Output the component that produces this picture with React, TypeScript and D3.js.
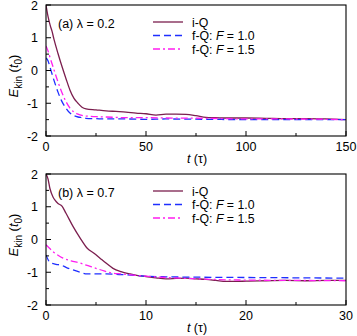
import React from "react";
import * as d3 from "d3";

// Panel (a): lambda = 0.2, t in [0,150]
const tIQa = [0,1,2,3,4,6,8,10,12,14,16,18,20,25,30,35,40,45,50,55,60,65,70,75,80,85,90,100,110,120,130,140,150];
const eIQa = [2.0,1.65,1.4,1.2,0.95,0.52,0.12,-0.25,-0.6,-0.85,-1.0,-1.12,-1.17,-1.2,-1.23,-1.25,-1.27,-1.3,-1.32,-1.36,-1.33,-1.33,-1.34,-1.38,-1.43,-1.44,-1.45,-1.45,-1.46,-1.47,-1.47,-1.48,-1.5];
const tF1a = [0,1,2,4,6,8,10,12,14,16,18,20,25,30,40,50,60,80,100,120,150];
const eF1a = [0.38,0.3,0.1,-0.3,-0.66,-0.95,-1.15,-1.3,-1.38,-1.42,-1.44,-1.46,-1.47,-1.48,-1.48,-1.49,-1.48,-1.49,-1.5,-1.5,-1.5];
const tF15a = [0,1,2,4,6,8,10,12,14,16,18,20,25,30,40,50,60,80,100,120,150];
const eF15a = [0.75,0.6,0.4,0.02,-0.35,-0.68,-0.95,-1.15,-1.27,-1.33,-1.37,-1.39,-1.41,-1.42,-1.44,-1.44,-1.45,-1.46,-1.48,-1.48,-1.5];

// Panel (b): lambda = 0.7, t in [0,30]
const tIQb = [0,0.2,0.4,0.7,0.9,1.2,1.6,2,2.7,3.4,4.1,4.8,5.4,6,6.7,7.5,8.4,9.2,10,11,12,13,14,15,16,17,18,19,20,22,24,26,28,30];
const eIQb = [2.0,1.85,1.55,1.3,1.2,1.1,1.02,0.8,0.4,0.05,-0.26,-0.42,-0.57,-0.72,-0.88,-0.98,-1.05,-1.1,-1.13,-1.17,-1.2,-1.19,-1.18,-1.2,-1.22,-1.25,-1.28,-1.28,-1.27,-1.26,-1.25,-1.26,-1.25,-1.25];
const tF1b = [0,0.4,1,1.5,2,2.7,3.4,4.1,5,6,7,8,9,10,12,15,20,25,30];
const eF1b = [-0.47,-0.7,-0.76,-0.78,-0.85,-0.93,-1.0,-1.05,-1.05,-1.05,-1.06,-1.08,-1.1,-1.12,-1.14,-1.15,-1.16,-1.17,-1.18];
const tF15b = [0,0.3,0.7,1.2,1.7,2.5,3.4,4.2,5,5.8,6.7,7.5,8.5,10,12,15,18,20,25,30];
const eF15b = [-0.16,-0.25,-0.37,-0.48,-0.57,-0.65,-0.72,-0.8,-0.88,-0.96,-1.03,-1.05,-1.08,-1.12,-1.16,-1.2,-1.23,-1.24,-1.25,-1.26];

const yTicks = [2, 1, 0, -1, -2];
const yMinor = [1.5, 0.5, -0.5, -1.5];
const xTicksA = [0, 50, 100, 150];
const xMinorA = [25, 75, 125];
const xTicksB = [0, 10, 20, 30];
const xMinorB = [5, 15, 25];

const COL_IQ = "#7b1e4e";
const COL_F1 = "#1f2fff";
const COL_F15 = "#ff1ef0";
const FONT = "'Liberation Sans', Arial, Helvetica, sans-serif";

function Panel({ top, xMax, xTicks, xMinor, label, lam, series, yLabelC }: any) {
  const left = 46, right = 346, bottom = top + 131;
  const x = d3.scaleLinear().domain([0, xMax]).range([left, right]);
  const y = d3.scaleLinear().domain([-2, 2]).range([bottom, top]);
  const line = (ts: number[], es: number[]) =>
    d3.line<number>().x((_, i) => x(ts[i])).y((d) => y(d)).curve(d3.curveMonotoneX)(es) || "";
  const clipId = "clip" + top;
  const legY = [top + 17, top + 30.5, top + 44];
  return (
    <g fontFamily={FONT}>
      <defs>
        <clipPath id={clipId}>
          <rect x={left} y={top} width={right - left} height={bottom - top} />
        </clipPath>
      </defs>
      <g clipPath={`url(#${clipId})`}>
        {series.map((s: any, i: number) => (
          <path key={i} d={line(s.t, s.e)} fill="none" stroke={s.color} strokeWidth={1.3} strokeDasharray={s.dash} />
        ))}
      </g>
      <rect x={left} y={top} width={right - left} height={bottom - top} fill="none" stroke="#000" strokeWidth={1.1} />
      {yTicks.map((v) => (
        <g key={"y" + v}>
          <line x1={left} x2={left + 5} y1={y(v)} y2={y(v)} stroke="#000" />
          <text x={left - 8} y={y(v) + 4.5} fontSize={12.5} textAnchor="end">{v}</text>
        </g>
      ))}
      {yMinor.map((v) => (
        <line key={"ym" + v} x1={left} x2={left + 3} y1={y(v)} y2={y(v)} stroke="#000" />
      ))}
      {xTicks.map((v: number) => (
        <g key={"x" + v}>
          <line x1={x(v)} x2={x(v)} y1={bottom} y2={bottom - 5} stroke="#000" />
          <text x={x(v)} y={bottom + 14.5} fontSize={12.5} textAnchor="middle">{v}</text>
        </g>
      ))}
      {xMinor.map((v: number) => (
        <line key={"xm" + v} x1={x(v)} x2={x(v)} y1={bottom} y2={bottom - 3} stroke="#000" />
      ))}
      <text x={197} y={bottom + 26.5} fontSize={12.5} textAnchor="middle">
        <tspan fontStyle="italic">t</tspan> (τ)
      </text>
      <text transform={`translate(${17.5},${yLabelC}) rotate(-90)`} fontSize={13} textAnchor="middle">
        <tspan fontStyle="italic">E</tspan>
        <tspan fontSize={10} dy={4}>kin</tspan>
        <tspan dy={-4}> (</tspan>
        <tspan fontStyle="italic">t</tspan>
        <tspan fontSize={10} dy={4}>0</tspan>
        <tspan dy={-4}>)</tspan>
      </text>
      <text x={58} y={top + 23} fontSize={12.5}>
        {label}{"  "}<tspan>λ = {lam}</tspan>
      </text>
      {series.map((s: any, i: number) => (
        <g key={"leg" + i}>
          <line x1={153} x2={183} y1={legY[i]} y2={legY[i]} stroke={s.color} strokeWidth={1.3} strokeDasharray={s.dash} />
          <text x={192} y={legY[i] + 4.5} fontSize={12.3}>
            {s.name}
            {s.F ? (
              <>
                <tspan fontStyle="italic">F</tspan>
                <tspan> = {s.F}</tspan>
              </>
            ) : null}
          </text>
        </g>
      ))}
    </g>
  );
}

export default function App() {
  const seriesA = [
    { t: tIQa, e: eIQa, color: COL_IQ, dash: undefined, name: "i-Q" },
    { t: tF1a, e: eF1a, color: COL_F1, dash: "7,4", name: "f-Q: ", F: "1.0" },
    { t: tF15a, e: eF15a, color: COL_F15, dash: "7,3,2,3", name: "f-Q: ", F: "1.5" },
  ];
  const seriesB = [
    { t: tIQb, e: eIQb, color: COL_IQ, dash: undefined, name: "i-Q" },
    { t: tF1b, e: eF1b, color: COL_F1, dash: "7,4", name: "f-Q: ", F: "1.0" },
    { t: tF15b, e: eF15b, color: COL_F15, dash: "7,3,2,3", name: "f-Q: ", F: "1.5" },
  ];
  return (
    <svg width={357} height={336} style={{ position: "absolute", left: 0, top: 0, background: "#fff" }}>
      <Panel top={5} xMax={150} xTicks={xTicksA} xMinor={xMinorA} label="(a)" lam="0.2" series={seriesA} yLabelC={76} />
      <Panel top={174} xMax={30} xTicks={xTicksB} xMinor={xMinorB} label="(b)" lam="0.7" series={seriesB} yLabelC={235} />
    </svg>
  );
}
